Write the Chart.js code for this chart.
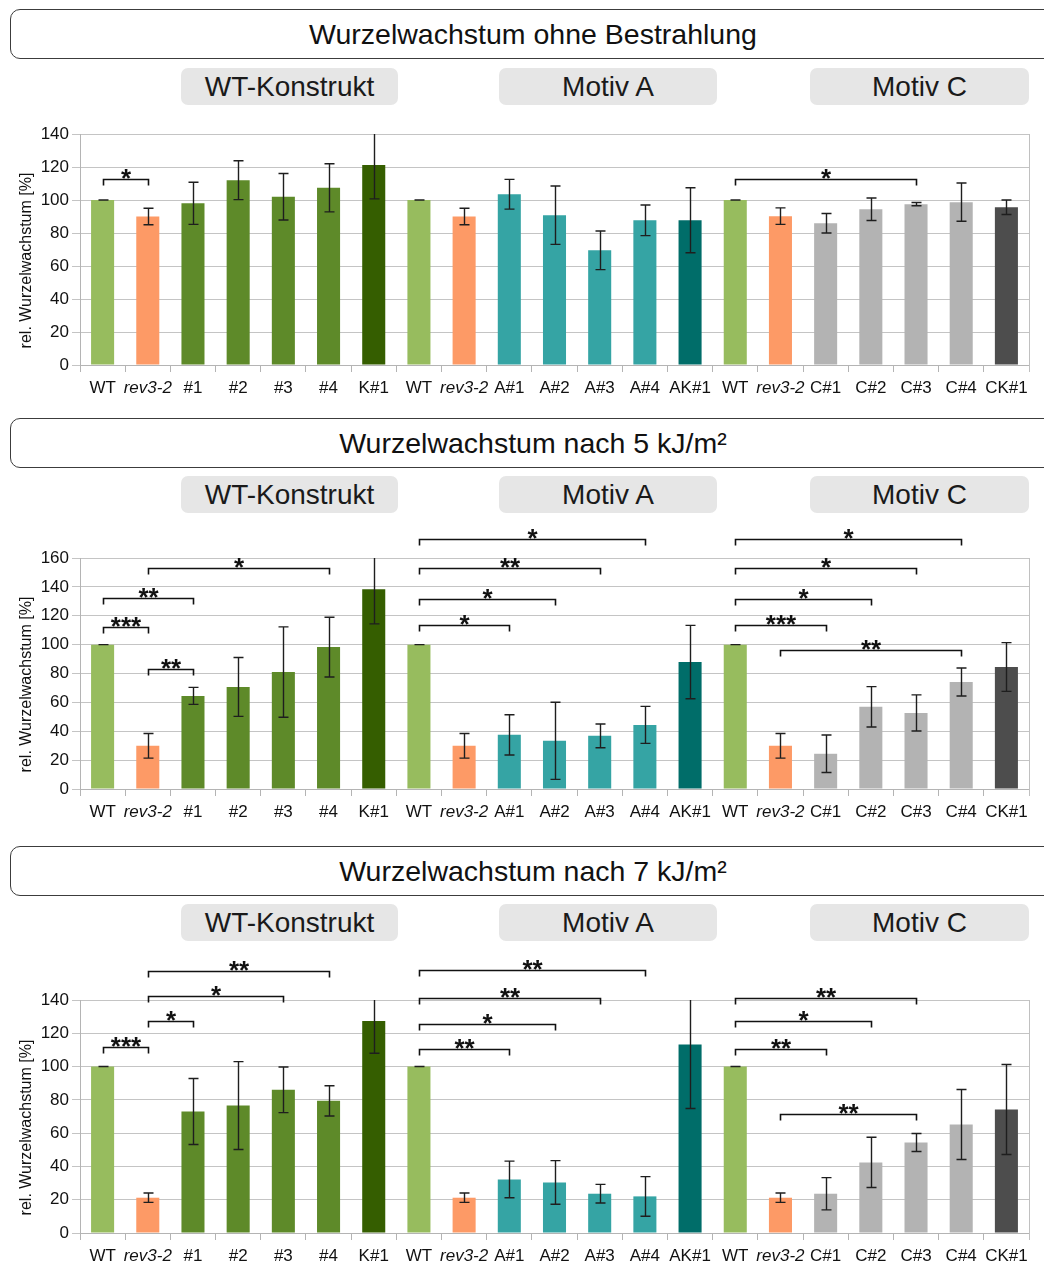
<!DOCTYPE html>
<html>
<head>
<meta charset="utf-8">
<script src="https://cdn.jsdelivr.net/npm/chart.js@4.4.1/dist/chart.umd.min.js"></script>
<style>
body { margin: 0; background: #fff; font-family: "Liberation Sans", Arial, sans-serif; overflow: hidden; }
#page { position: relative; width: 1044px; height: 1265px; overflow: hidden; }
.title { position: absolute; left: 10px; width: 1046px; height: 50px; box-sizing: border-box;
  border: 1px solid #3c3c3c; border-radius: 10px; font-size: 28.5px; color: #111;
  display: flex; align-items: center; justify-content: center; }
.group { position: absolute; height: 37px; background: #e6e6e6; border-radius: 7px;
  font-size: 28px; color: #1a1a1a; display: flex; align-items: center; justify-content: center; }
.plot { position: absolute; left: 0; width: 1044px; }
</style>
</head>
<body>
<div id="page">
  <div class="title" style="top:9px">Wurzelwachstum ohne Bestrahlung</div>
  <div class="group" style="top:68px;left:181px;width:217px">WT-Konstrukt</div>
  <div class="group" style="top:68px;left:499px;width:218px">Motiv A</div>
  <div class="group" style="top:68px;left:810px;width:219px">Motiv C</div>
  <div class="plot" style="top:105px;height:292px"><canvas id="c0"></canvas></div>

  <div class="title" style="top:418px">Wurzelwachstum nach 5 kJ/m²</div>
  <div class="group" style="top:476px;left:181px;width:217px">WT-Konstrukt</div>
  <div class="group" style="top:476px;left:499px;width:218px">Motiv A</div>
  <div class="group" style="top:476px;left:810px;width:219px">Motiv C</div>
  <div class="plot" style="top:515px;height:306px"><canvas id="c5"></canvas></div>

  <div class="title" style="top:846px">Wurzelwachstum nach 7 kJ/m²</div>
  <div class="group" style="top:904px;left:181px;width:217px">WT-Konstrukt</div>
  <div class="group" style="top:904px;left:499px;width:218px">Motiv A</div>
  <div class="group" style="top:904px;left:810px;width:219px">Motiv C</div>
  <div class="plot" style="top:943px;height:322px"><canvas id="c7"></canvas></div>
</div>
<script>
const labels = ['WT', 'rev3-2', '#1', '#2', '#3', '#4', 'K#1',
                'WT', 'rev3-2', 'A#1', 'A#2', 'A#3', 'A#4', 'AK#1',
                'WT', 'rev3-2', 'C#1', 'C#2', 'C#3', 'C#4', 'CK#1'];

// ohne Bestrahlung
const means0 = [100, 90, 98, 112, 102, 107.4, 121.2, 100, 90, 103.5, 90.8, 69.5, 87.7, 87.7, 100, 90.2, 85.9, 94.4, 97.5, 98.7, 95.6];
const errs0  = [0, 5, 12.8, 11.8, 14.1, 14.6, 20.5, 0, 5, 9, 17.7, 11.7, 9.3, 19.7, 0, 5, 5.9, 6.8, 1, 11.6, 4.4];
const sig0   = [[0, 1, 113, '*'], [14, 18, 112.8, '*']];

// 5 kJ/m²
const means5 = [100, 29.9, 64.5, 70.7, 81, 98.3, 138.4, 100, 29.9, 37.5, 33.4, 36.8, 44.4, 87.9, 100, 29.9, 24.4, 56.9, 52.7, 74.1, 84.5];
const errs5  = [0, 8.5, 5.9, 20.4, 31.3, 20.7, 24, 0, 8.5, 13.9, 26.7, 8.2, 12.8, 25.4, 0, 8.5, 13, 14, 12.5, 9.7, 16.9];
const sig5   = [[0, 1, 111.9, '***'], [0, 2, 132.6, '**'], [1, 5, 153.3, '*'], [1, 2, 83.3, '**'],
                [7, 12, 172.9, '*'], [7, 11, 153.3, '**'], [7, 10, 131.4, '*'], [7, 9, 113.5, '*'],
                [14, 19, 172.9, '*'], [14, 18, 152.9, '*'], [14, 17, 131.4, '*'], [14, 16, 113.3, '***'],
                [15, 19, 96.5, '**']];

// 7 kJ/m²
const means7 = [100, 21.2, 73, 76.6, 86, 79.4, 127.4, 100, 21.2, 32.2, 30.4, 23.6, 22, 113.2, 100, 21.2, 23.6, 42.4, 54.4, 65.2, 74.2];
const errs7  = [0, 2.8, 19.8, 26.4, 13.7, 9.1, 19.4, 0, 2.8, 11, 13.1, 5.6, 11.9, 38.4, 0, 2.8, 9.7, 15.1, 5.4, 21, 27];
const sig7   = [[0, 1, 112, '***'], [1, 2, 127.2, '*'], [1, 4, 142.2, '*'], [1, 5, 157.2, '**'],
                [7, 12, 158.2, '**'], [7, 11, 141.2, '**'], [7, 10, 125.6, '*'], [7, 9, 110.4, '**'],
                [14, 18, 141.2, '**'], [14, 17, 127.2, '*'], [14, 16, 110.4, '**'], [15, 18, 71.6, '**']];

const FONT = '"Liberation Sans", Arial, sans-serif';
const cWT = '#97bc5e', cRev = '#fd9a66', cGreen = '#5e8a29', cK = '#355e00';
const cTeal = '#35a4a4', cAK = '#006d69', cGrey = '#b3b3b3', cCK = '#4d4d4d';
const barColors = [cWT, cRev, cGreen, cGreen, cGreen, cGreen, cK,
                   cWT, cRev, cTeal, cTeal, cTeal, cTeal, cAK,
                   cWT, cRev, cGrey, cGrey, cGrey, cGrey, cCK];

const crisp = v => Math.round(v) + 0.5;

const marksPlugin = (errs, sig) => ({
    id: 'marks',
    afterDatasetsDraw(chart) {
        const { ctx, chartArea, scales: { y } } = chart;
        const meta = chart.getDatasetMeta(0);
        const vals = chart.data.datasets[0].data;

        ctx.save();
        // right frame line
        ctx.strokeStyle = '#c0c0c0';
        ctx.lineWidth = 1;
        ctx.beginPath();
        ctx.moveTo(crisp(chartArea.right), chartArea.top);
        ctx.lineTo(crisp(chartArea.right), chartArea.bottom + 7);
        ctx.stroke();

        // error bars
        ctx.strokeStyle = '#1e1e1e';
        ctx.lineWidth = 1.4;
        meta.data.forEach((bar, i) => {
            const hi = vals[i] + errs[i];
            const lo = vals[i] - errs[i];
            const yHi = y.getPixelForValue(Math.min(hi, y.max));
            const yLo = y.getPixelForValue(lo);
            const x = crisp(bar.x);
            ctx.beginPath();
            ctx.moveTo(x, yHi);
            ctx.lineTo(x, yLo);
            if (hi <= y.max) {
                ctx.moveTo(x - 5, yHi);
                ctx.lineTo(x + 5, yHi);
            }
            ctx.moveTo(x - 5, yLo);
            ctx.lineTo(x + 5, yLo);
            ctx.stroke();
        });

        // significance brackets
        ctx.strokeStyle = '#111';
        ctx.fillStyle = '#111';
        ctx.lineWidth = 1.6;
        ctx.font = 'bold 26px ' + FONT;
        ctx.textAlign = 'center';
        ctx.textBaseline = 'alphabetic';
        sig.forEach(([a, b, v, txt]) => {
            const x1 = crisp(meta.data[a].x), x2 = crisp(meta.data[b].x);
            const yy = crisp(y.getPixelForValue(v));
            ctx.beginPath();
            ctx.moveTo(x1, yy + 6);
            ctx.lineTo(x1, yy);
            ctx.lineTo(x2, yy);
            ctx.lineTo(x2, yy + 6);
            ctx.stroke();
            ctx.fillText(txt, (x1 + x2) / 2, yy + 7);
        });

        // y axis title
        ctx.translate(27, (chartArea.top + chartArea.bottom) / 2 + 11);
        ctx.rotate(-Math.PI / 2);
        ctx.font = '16px ' + FONT;
        ctx.textBaseline = 'middle';
        ctx.fillText('rel. Wurzelwachstum [%]', 0, 0);
        ctx.restore();
    }
});

const makeChart = (id, means, errs, sig, yMax, padTop) => {
    const config = {
        type: 'bar',
        data: {
            labels: labels,
            datasets: [{
                data: means,
                backgroundColor: barColors,
                borderWidth: 0,
                categoryPercentage: 1,
                barPercentage: 0.51,
            }],
        },
        options: {
            animation: false,
            responsive: true,
            maintainAspectRatio: false,
            events: [],
            layout: { padding: { top: padTop, right: 15, left: 0, bottom: 0 } },
            scales: {
                x: {
                    grid: { offset: true, drawOnChartArea: false, tickLength: 7, color: '#b4b4b4' },
                    border: { color: '#b4b4b4' },
                    ticks: {
                        autoSkip: false,
                        maxRotation: 0,
                        padding: 6,
                        color: '#111',
                        font: (c) => ({ size: 17, family: FONT, style: labels[c.index] === 'rev3-2' ? 'italic' : 'normal' }),
                    },
                    afterFit: (s) => { s.height = 32; },
                },
                y: {
                    min: 0,
                    max: yMax,
                    grid: { color: '#c4c4c4', tickLength: 8 },
                    border: { color: '#b4b4b4' },
                    ticks: { stepSize: 20, padding: 3, color: '#111', font: { size: 17, family: FONT } },
                    afterFit: (s) => { s.width = 80; },
                },
            },
            plugins: {
                legend: { display: false },
                tooltip: { enabled: false },
            },
        },
        plugins: [marksPlugin(errs, sig)],
    };
    return new Chart(document.getElementById(id), config);
};

makeChart('c0', means0, errs0, sig0, 140, 29);
makeChart('c5', means5, errs5, sig5, 160, 43);
makeChart('c7', means7, errs7, sig7, 140, 57);
</script>
</body>
</html>
